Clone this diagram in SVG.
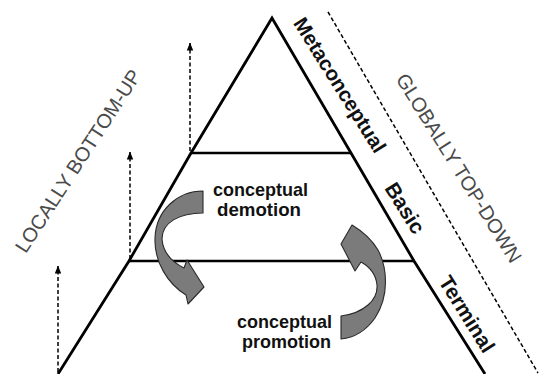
<svg xmlns="http://www.w3.org/2000/svg" width="539" height="374" viewBox="0 0 539 374">
<defs>
<style>
.edge{fill:none;stroke:#000;stroke-width:2.8;stroke-linejoin:miter}
.level{fill:none;stroke:#000;stroke-width:2.3}
.dash{fill:none;stroke:#000;stroke-width:1.5;stroke-dasharray:4 2.5}
.flow{fill:#7b7b7b;stroke:#2a2a2a;stroke-width:1.1;stroke-linejoin:round}
.lbl{font-family:"Liberation Sans",Arial,sans-serif;font-weight:bold;fill:#111}
.dir{font-family:"Liberation Sans",Arial,sans-serif;font-size:20px;fill:#4a4a4a}
</style>
<marker id="ah" viewBox="0 0 8 8" refX="7.5" refY="4" markerWidth="8" markerHeight="8" markerUnits="userSpaceOnUse" orient="auto">
<path d="M0,0.8 L8,4 L0,7.2 Z" fill="#000"/>
</marker>
</defs>

<g id="pyramid">
<polyline class="edge" points="58,374 129,261 191,153 272,18 351,153 414,261 485,374"/>
<line class="level" x1="191" y1="153" x2="351" y2="153"/>
<line class="level" x1="129" y1="261" x2="414" y2="261"/>
</g>

<g id="connectors">
<line class="dash" x1="58" y1="372" x2="58" y2="266" marker-end="url(#ah)"/>
<line class="dash" x1="130" y1="259" x2="130" y2="152" marker-end="url(#ah)"/>
<line class="dash" x1="190" y1="151" x2="190" y2="43" marker-end="url(#ah)"/>
<line class="dash" x1="328" y1="12" x2="538" y2="373"/>
</g>

<g id="demotion-arrow">
<path class="flow" d="M203,191 C178,191 156,210 155,238 C154,262 168,284 186,295 L188,304 L204,287 L187,260 L184,268 C172,262 163,252 162,239 C162,222 180,213 203,213 Z"/>
</g>

<g id="promotion-arrow">
<path class="flow" d="M341,316 C364,313 378,300 377,285 C376,275 370,267 361,262 L355,271 L341,244 L352,225 C362,231 372,240 378,250 C387,267 390,295 375,318 C365,332 352,338 341,339 Z"/>
</g>

<g id="label-demotion">
<text class="lbl" font-size="19" x="213" y="196" textLength="95" lengthAdjust="spacingAndGlyphs">conceptual</text>
<text class="lbl" font-size="19" x="217" y="216" textLength="84" lengthAdjust="spacingAndGlyphs">demotion</text>
</g>

<g id="label-promotion">
<text class="lbl" font-size="19" x="237" y="328" textLength="95" lengthAdjust="spacingAndGlyphs">conceptual</text>
<text class="lbl" font-size="19" x="242" y="348" textLength="89" lengthAdjust="spacingAndGlyphs">promotion</text>
</g>

<g id="level-metaconceptual">
<text class="lbl" font-size="20.5" text-anchor="middle" dy="0.35em" transform="translate(340,85) rotate(58)">Metaconceptual</text>
</g>
<g id="level-basic">
<text class="lbl" font-size="21" text-anchor="middle" dy="0.35em" transform="translate(405,208) rotate(58)">Basic</text>
</g>
<g id="level-terminal">
<text class="lbl" font-size="21" text-anchor="middle" dy="0.35em" transform="translate(467,314) rotate(58)">Terminal</text>
</g>

<g id="label-bottom-up">
<text class="dir" text-anchor="middle" dy="0.35em" transform="translate(78,161) rotate(-57)">LOCALLY BOTTOM-UP</text>
</g>
<g id="label-top-down">
<text class="dir" text-anchor="middle" dy="0.35em" transform="translate(459,168) rotate(58)">GLOBALLY TOP-DOWN</text>
</g>
</svg>
